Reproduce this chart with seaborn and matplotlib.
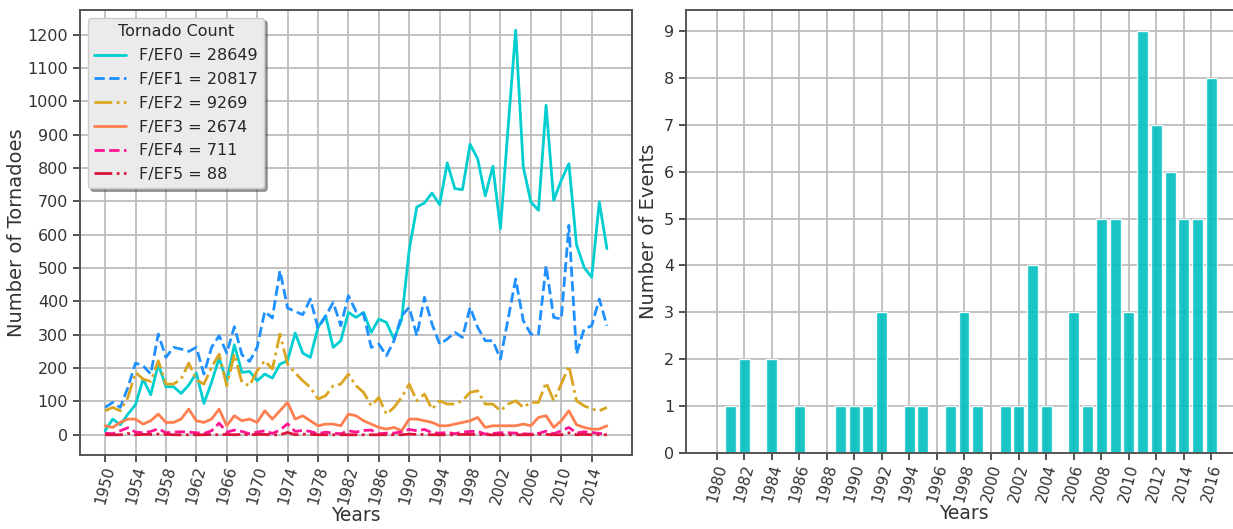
import numpy as np
import pandas as pd
import matplotlib
matplotlib.use("Agg")
import matplotlib.pyplot as plt
import seaborn as sns

# ---------------- data ----------------
years = list(range(1950, 2017))

ef0 = [12, 47, 30, 62, 90, 167, 120, 212, 144, 144,
       124, 149, 185, 94, 157, 230, 160, 270, 187, 190,
       162, 182, 170, 212, 222, 305, 245, 232, 322, 357,
       262, 282, 367, 352, 367, 307, 347, 337, 287, 345,
       555, 683, 695, 725, 690, 815, 738, 735, 871, 828,
       716, 805, 618, 920, 1213, 803, 698, 673, 988, 703,
       763, 813, 570, 502, 472, 698, 558]
ef1 = [82, 97, 82, 142, 215, 207, 182, 302, 232, 262,
       257, 250, 262, 182, 262, 297, 245, 324, 240, 220,
       262, 370, 350, 492, 380, 370, 360, 407, 320, 355,
       397, 327, 417, 370, 362, 262, 272, 237, 282, 357,
       382, 297, 412, 332, 272, 287, 307, 292, 382, 322,
       282, 282, 227, 347, 467, 342, 302, 302, 507, 352,
       347, 628, 242, 317, 327, 407, 327]
ef2 = [72, 82, 72, 112, 187, 167, 160, 222, 152, 152,
       167, 215, 165, 152, 202, 242, 147, 242, 157, 147,
       192, 222, 197, 302, 212, 185, 162, 142, 107, 117,
       147, 152, 182, 147, 127, 87, 112, 62, 82, 112,
       152, 102, 122, 77, 102, 92, 92, 102, 127, 132,
       92, 92, 72, 92, 102, 82, 97, 97, 157, 102,
       152, 207, 102, 87, 77, 72, 82]
ef3 = [27, 22, 37, 47, 47, 32, 42, 62, 37, 37,
       47, 77, 42, 37, 47, 77, 27, 57, 42, 47,
       37, 72, 47, 72, 97, 47, 57, 42, 27, 32,
       32, 27, 62, 57, 42, 32, 22, 17, 22, 12,
       47, 47, 42, 37, 27, 27, 32, 37, 42, 52,
       22, 27, 27, 27, 27, 32, 27, 52, 57, 22,
       42, 72, 30, 22, 17, 17, 27]
ef4 = [5, 3, 12, 21, 8, 6, 10, 18, 6, 8,
       9, 8, 6, 4, 12, 35, 8, 14, 10, 3,
       8, 12, 4, 14, 33, 10, 13, 10, 3, 8,
       5, 3, 12, 8, 13, 14, 3, 5, 5, 9,
       16, 12, 16, 6, 5, 7, 3, 8, 10, 10,
       2, 4, 6, 6, 5, 3, 2, 4, 11, 3,
       12, 22, 5, 9, 7, 4, 2]
ef5 = [0, 0, 0, 4, 0, 1, 1, 2, 1, 0,
       0, 0, 0, 0, 1, 0, 1, 0, 1, 0,
       1, 1, 0, 0, 7, 0, 2, 1, 0, 0,
       0, 0, 0, 0, 0, 0, 0, 0, 0, 0,
       2, 1, 1, 0, 0, 0, 0, 1, 1, 1,
       0, 0, 0, 0, 0, 0, 0, 1, 1, 0,
       0, 6, 0, 1, 0, 0, 0]

scale_names = ["F/EF0", "F/EF1", "F/EF2", "F/EF3", "F/EF4", "F/EF5"]
scale_totals = [28649, 20817, 9269, 2674, 711, 88]

event_years = list(range(1980, 2017))
event_counts = [0, 1, 2, 0, 2, 0, 1, 0, 0, 1,
                1, 1, 3, 0, 1, 1, 0, 1, 3, 1,
                0, 1, 1, 4, 1, 0, 3, 1, 5, 5,
                3, 9, 7, 6, 5, 5, 8]

left_xticks = list(range(1950, 2015, 4))
right_xticks = list(range(1980, 2017, 2))

# ---------------- style ----------------
sns.set_style("white")
plt.rcParams['font.family'] = ['DejaVu Sans']
plt.rcParams['axes.edgecolor'] = '#555555'
plt.rcParams['axes.linewidth'] = 1.4
plt.rcParams['xtick.color'] = '#333333'
plt.rcParams['ytick.color'] = '#333333'

fig = plt.figure(figsize=(12.33, 5.29), dpi=100)
ax1 = fig.add_axes([80/1233, 1-455/529, 552/1233, 445/529])
ax2 = fig.add_axes([686/1233, 1-453/529, 556/1233, 443/529])

# ---------------- left: line chart ----------------
series = [ef0, ef1, ef2, ef3, ef4, ef5]
colors = ["#00CED1", "#1E90FF", "#DAA520", "#FF7F50", "#FF1493", "#DC143C"]
styles = ["-", "--", "-.", "-", "--", "-."]
for vals, name, tot, col, ls in zip(series, scale_names, scale_totals, colors, styles):
    df = pd.DataFrame({"year": years, "count": vals})
    sns.lineplot(data=df, x="year", y="count", ax=ax1, color=col,
                 linestyle=ls, linewidth=2.0, label=f"{name} = {tot}")

ax1.set_xticks(left_xticks)
ax1.set_xticklabels([str(y) for y in left_xticks], rotation=75, fontsize=11)
ax1.set_yticks(range(0, 1300, 100))
ax1.tick_params(axis='y', labelsize=11.5)
ax1.tick_params(direction='out', length=5, width=1.2, bottom=True, left=True)
ax1.tick_params(axis='x', pad=2)
ax1.grid(True, color='#bdbdbd', linewidth=1.3)
ax1.set_axisbelow(True)
ax1.set_xlabel("Years", fontsize=13.5, color='#333333', labelpad=0)
ax1.set_ylabel("Number of Tornadoes", fontsize=14, color='#333333', labelpad=1)
leg = ax1.legend(title="Tornado Count", loc="upper left", fontsize=11.5,
                 title_fontsize=11.5, frameon=True, shadow=True, fancybox=True,
                 facecolor='#ebebeb', edgecolor='#cccccc', framealpha=1.0,
                 bbox_to_anchor=(0.0, 1.0), borderaxespad=0.5,
                 handlelength=2.0, labelspacing=0.55)

# ---------------- right: bar chart ----------------
dfb = pd.DataFrame({"year": event_years, "events": event_counts})
sns.barplot(data=dfb, x="year", y="events", ax=ax2, native_scale=True,
            color="#00BFBF", saturation=1, alpha=0.9, width=0.8, errorbar=None)
ax2.set_xticks(right_xticks)
ax2.set_xticklabels([str(y) for y in right_xticks], rotation=75, fontsize=11)
ax2.set_yticks(range(0, 10))
ax2.tick_params(axis='y', labelsize=11.5)
ax2.tick_params(direction='out', length=5, width=1.2, bottom=True, left=True)
ax2.tick_params(axis='x', pad=2)
ax2.set_ylim(0, 9.45)
ax2.set_xlim(1977.76, 2018.24)
ax2.grid(True, color='#bdbdbd', linewidth=1.3)
ax2.set_axisbelow(True)
ax2.set_xlabel("Years", fontsize=13.5, color='#333333', labelpad=0)
ax2.set_ylabel("Number of Events", fontsize=14, color='#333333')

fig.savefig("out.png", dpi=100)
